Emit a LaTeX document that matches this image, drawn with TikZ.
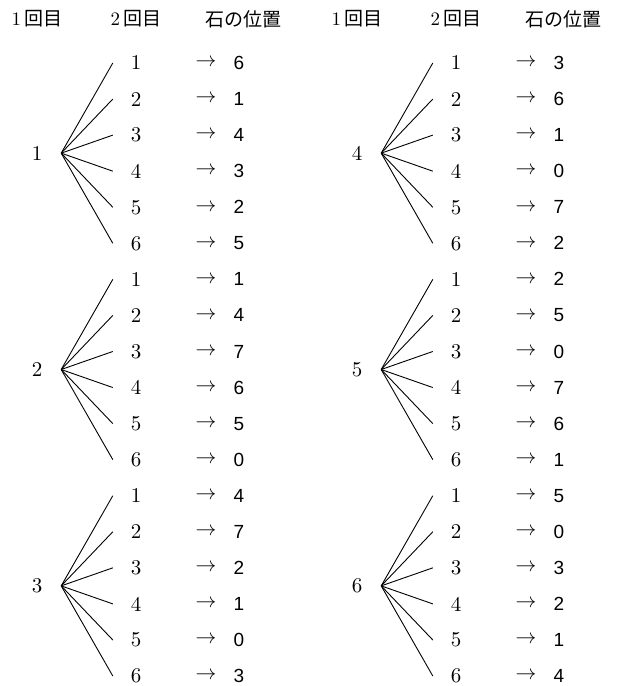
\documentclass[tikz,border=0pt]{standalone}
\usepackage{fontspec}
\newfontfamily\jpfont{Noto Sans CJK JP}
\newfontfamily\numfont{Liberation Sans}
\newfontfamily\serifnum{lmroman10-regular}[Extension=.otf]
\usetikzlibrary{positioning, calc}

\begin{document}
\begin{tikzpicture}[
    x=1pt, y=-1pt,
    header/.style={font=\fontsize{19}{19}\serifnum, inner sep=0pt},
    first/.style={font=\fontsize{21}{21}\serifnum, minimum width=48pt, inner sep=0pt},
    second/.style={font=\fontsize{21}{21}\serifnum, minimum width=46pt, inner sep=0pt},
    arrowtxt/.style={font=\fontsize{21}{21}\selectfont, inner sep=0pt},
    result/.style={font=\fontsize{19}{19}\numfont, inner sep=0pt},
    branch/.style={line width=0.9pt}
]
\useasboundingbox (0,0) rectangle (619,686);

% --- Headers ---
\foreach \dx/\side in {0/L, 320/R} {
    \node[header] (one\side)   at (37+\dx, 19)  {1\,{\jpfont 回目}};
    \node[header] (two\side)   at (136+\dx, 19) {2\,{\jpfont 回目}};
    \node[header] (stone\side) at (243+\dx, 19) {\jpfont 石の位置};
}

% Row pitch and top row
\def\pitch{36.06}
\def\top{63}

% --- Trees: first throw / column shift / block / stone positions ---
\foreach \first/\dx/\b/\res in {1/0/0/{6,1,4,3,2,5}, 2/0/1/{1,4,7,6,5,0}, 3/0/2/{4,7,2,1,0,3},
                                4/320/0/{3,6,1,0,7,2}, 5/320/1/{2,5,0,7,6,1}, 6/320/2/{5,0,3,2,1,4}} {
    \pgfmathsetmacro\ytop{\top+6*\b*\pitch}
    \node[first] (first\first) at (37+\dx, \ytop+2.5*\pitch) {\first};
    \coordinate (fork\first) at (first\first.east);
    \foreach \pos [count=\k] in \res {
        \node[second]   (second\first-\k) at (136+\dx, \ytop+\k*\pitch-\pitch) {\k};
        \node[arrowtxt] (arrow\first-\k)  at (206+\dx, \ytop+\k*\pitch-\pitch) {$\rightarrow$};
        \node[result]   (pos\first-\k)    at (239+\dx, \ytop+\k*\pitch-\pitch) {\pos};
        \draw[branch] (fork\first) -- (second\first-\k.west);
    }
}

\end{tikzpicture}
\end{document}
